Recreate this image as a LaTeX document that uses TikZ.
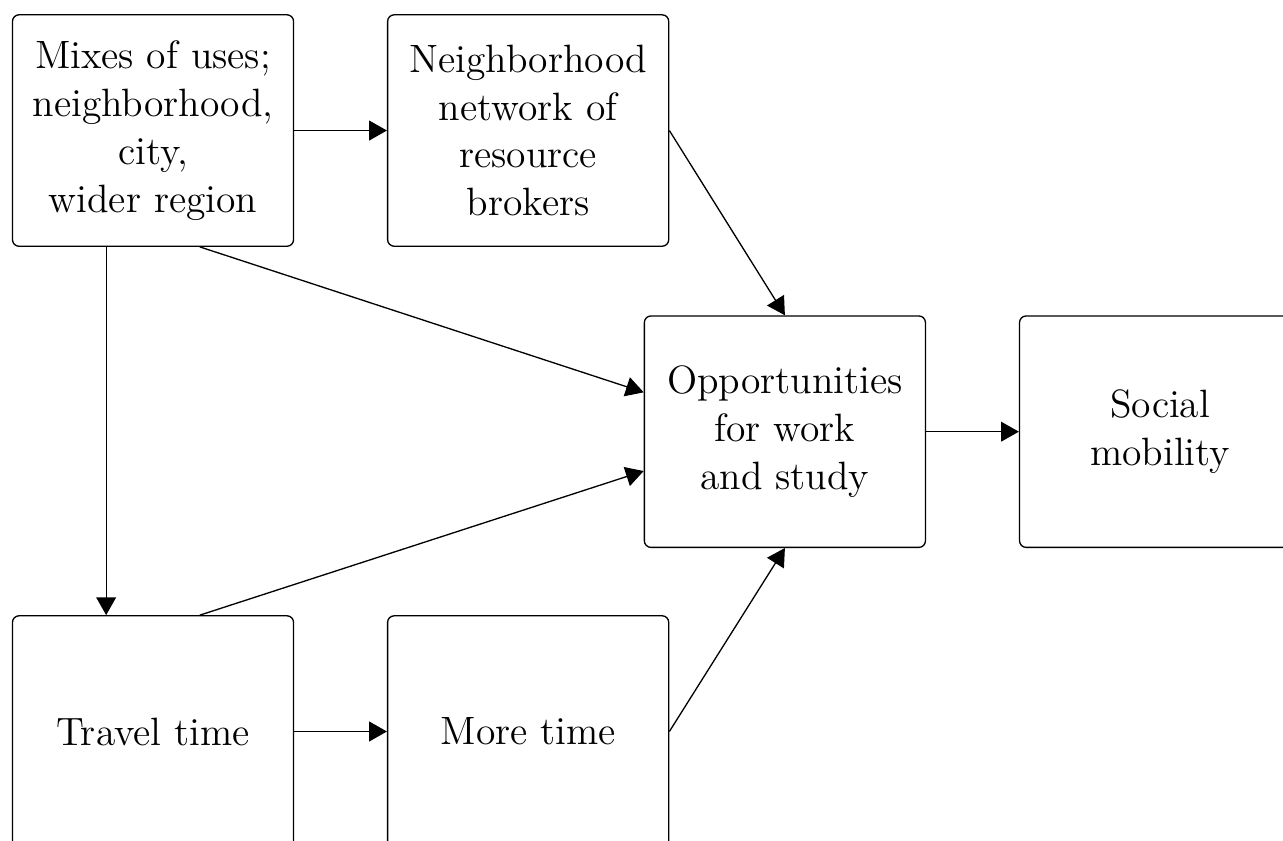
\documentclass[tikz,border=0pt]{standalone}
\usepackage{amsmath, amssymb}
\usepackage{tikz}
\usetikzlibrary{positioning, arrows.meta}

\begin{document}
\begin{tikzpicture}[
                    box/.style={draw, rectangle, rounded corners=2pt, align=center,
                        font=\fontsize{12}{14.5}\selectfont,
                        minimum width=3cm, minimum height=2.47cm},
                    arr/.style={-{Triangle[length=5.4pt, width=6pt]}}
                ]
                    \useasboundingbox (-1.633,1.393) rectangle (12.06,-7.582);
                    \node[box] (mix) at (0,0) {Mixes of uses;\\ neighborhood,\\ city,\\ wider region};
                    \node[box, right=0.99cm of mix] (broker) {Neighborhood\\ network of\\ resource\\ brokers};
                    \node[box, below right=0.73cm and 3.73cm of mix] (opp) {Opportunities\\ for work\\ and study};
                    \node[box, right=0.99cm of opp] (mobility) {Social\\ mobility};
                    \node[box, below=3.93cm of mix] (travel) {Travel time};
                    \node[box, right=0.99cm of travel] (moretime) {More time};
                    % arrows
                    \draw[arr] (mix) -- (broker);
                    \draw[arr] (broker.east) -- (opp.north);
                    \draw[arr] ([xshift=0.5cm]mix.south) -- ([yshift=0.42cm]opp.west);
                    \draw[arr] ([xshift=-0.5cm]mix.south) -- ([xshift=-0.5cm]travel.north);
                    \draw[arr] ([xshift=0.5cm]travel.north) -- ([yshift=-0.42cm]opp.west);
                    \draw[arr] (travel) -- (moretime);
                    \draw[arr] (moretime.east) -- (opp.south);
                    \draw[arr] (opp) -- (mobility);
                \end{tikzpicture}
\end{document}
